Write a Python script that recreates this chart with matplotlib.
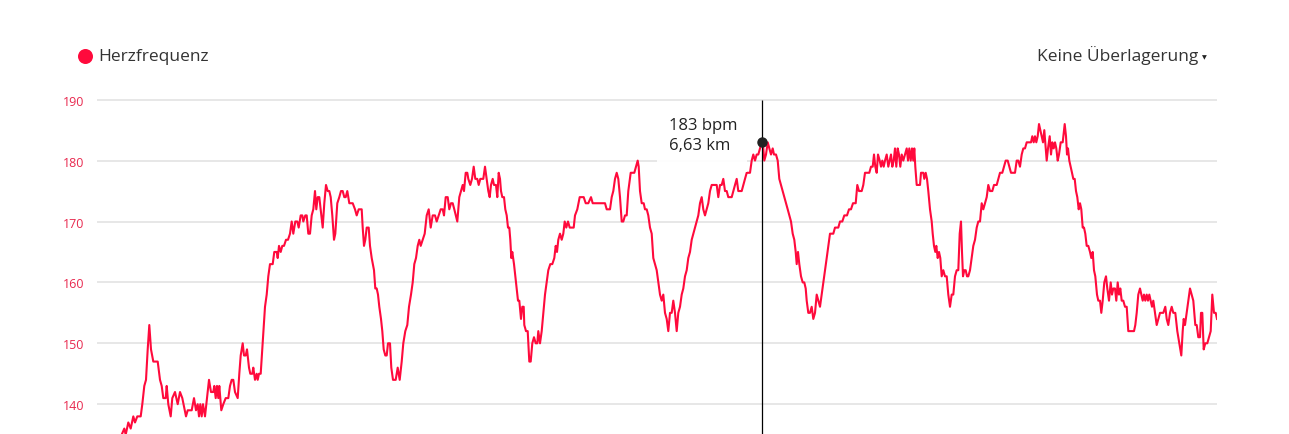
import matplotlib
matplotlib.use("Agg")
import matplotlib.pyplot as plt
from matplotlib.patches import Rectangle
from matplotlib.lines import Line2D

# Herzfrequenz über die Distanz
distance_km = [
    0.000, 0.100, 0.200, 0.227, 0.253, 0.267, 0.293, 0.317, 0.343, 0.360,
    0.383, 0.417, 0.433, 0.453, 0.470, 0.487, 0.503, 0.520, 0.543, 0.587,
    0.610, 0.627, 0.643, 0.667, 0.677, 0.693, 0.717, 0.733, 0.760, 0.787,
    0.810, 0.833, 0.870, 0.887, 0.927, 0.950, 0.970, 0.987, 1.000, 1.013,
    1.027, 1.040, 1.060, 1.080, 1.100, 1.120, 1.143, 1.153, 1.167, 1.180,
    1.193, 1.203, 1.223, 1.243, 1.267, 1.293, 1.310, 1.327, 1.343, 1.360,
    1.387, 1.403, 1.417, 1.437, 1.450, 1.467, 1.480, 1.500, 1.513, 1.533,
    1.543, 1.560, 1.577, 1.587, 1.600, 1.617, 1.633, 1.660, 1.677, 1.693,
    1.710, 1.737, 1.753, 1.777, 1.787, 1.800, 1.817, 1.833, 1.850, 1.870,
    1.890, 1.910, 1.927, 1.943, 1.963, 1.983, 1.997, 2.017, 2.033, 2.043,
    2.063, 2.077, 2.093, 2.110, 2.127, 2.143, 2.160, 2.173, 2.187, 2.203,
    2.223, 2.237, 2.253, 2.270, 2.287, 2.303, 2.317, 2.333, 2.350, 2.363,
    2.383, 2.403, 2.420, 2.437, 2.453, 2.467, 2.483, 2.503, 2.537, 2.560,
    2.577, 2.597, 2.627, 2.637, 2.650, 2.663, 2.677, 2.697, 2.710, 2.727,
    2.750, 2.763, 2.777, 2.790, 2.803, 2.820, 2.833, 2.847, 2.863, 2.877,
    2.890, 2.910, 2.923, 2.940, 2.967, 2.987, 3.007, 3.027, 3.043, 3.063,
    3.083, 3.100, 3.120, 3.137, 3.153, 3.170, 3.187, 3.203, 3.217, 3.237,
    3.257, 3.277, 3.297, 3.317, 3.337, 3.360, 3.377, 3.397, 3.417, 3.437,
    3.450, 3.467, 3.487, 3.503, 3.520, 3.537, 3.553, 3.583, 3.603, 3.620,
    3.637, 3.650, 3.667, 3.683, 3.693, 3.713, 3.730, 3.747, 3.763, 3.783,
    3.797, 3.813, 3.843, 3.860, 3.877, 3.893, 3.907, 3.920, 3.937, 3.950,
    3.970, 3.983, 3.997, 4.010, 4.020, 4.033, 4.050, 4.063, 4.077, 4.090,
    4.103, 4.113, 4.123, 4.133, 4.150, 4.163, 4.177, 4.190, 4.203, 4.220,
    4.233, 4.247, 4.253, 4.270, 4.287, 4.303, 4.317, 4.333, 4.350, 4.367,
    4.383, 4.393, 4.410, 4.427, 4.443, 4.460, 4.477, 4.493, 4.513, 4.533,
    4.553, 4.567, 4.580, 4.593, 4.610, 4.627, 4.643, 4.657, 4.673, 4.690,
    4.707, 4.727, 4.747, 4.760, 4.783, 4.807, 4.827, 4.847, 4.867, 4.893,
    4.920, 4.937, 4.977, 5.027, 5.060, 5.077, 5.110, 5.127, 5.143, 5.160,
    5.177, 5.193, 5.210, 5.227, 5.243, 5.260, 5.277, 5.293, 5.317, 5.337,
    5.353, 5.370, 5.387, 5.397, 5.410, 5.427, 5.447, 5.460, 5.477, 5.493,
    5.510, 5.527, 5.543, 5.560, 5.577, 5.593, 5.610, 5.627, 5.643, 5.660,
    5.677, 5.693, 5.710, 5.727, 5.743, 5.760, 5.777, 5.793, 5.810, 5.827,
    5.843, 5.860, 5.877, 5.893, 5.910, 5.927, 5.943, 5.960, 5.977, 5.993,
    6.010, 6.027, 6.043, 6.060, 6.077, 6.093, 6.110, 6.127, 6.143, 6.177,
    6.193, 6.210, 6.227, 6.243, 6.260, 6.277, 6.293, 6.327, 6.343, 6.360,
    6.377, 6.393, 6.427, 6.443, 6.460, 6.477, 6.493, 6.510, 6.527, 6.543,
    6.560, 6.577, 6.593, 6.610, 6.630, 6.643, 6.653, 6.670, 6.687, 6.703,
    6.720, 6.737, 6.750, 6.770, 6.787, 6.803, 6.820, 6.837, 6.853, 6.870,
    6.887, 6.903, 6.920, 6.937, 6.953, 6.967, 6.977, 6.990, 7.003, 7.020,
    7.037, 7.053, 7.067, 7.077, 7.093, 7.110, 7.127, 7.143, 7.160, 7.177,
    7.193, 7.210, 7.227, 7.243, 7.260, 7.277, 7.293, 7.310, 7.327, 7.343,
    7.360, 7.377, 7.393, 7.410, 7.433, 7.453, 7.480, 7.500, 7.520, 7.540,
    7.567, 7.583, 7.600, 7.627, 7.643, 7.660, 7.677, 7.703, 7.720, 7.737,
    7.750, 7.763, 7.777, 7.790, 7.807, 7.820, 7.833, 7.847, 7.860, 7.877,
    7.893, 7.907, 7.920, 7.933, 7.947, 7.960, 7.973, 7.987, 8.000, 8.013,
    8.027, 8.043, 8.060, 8.077, 8.090, 8.103, 8.117, 8.130, 8.143, 8.153,
    8.163, 8.177, 8.193, 8.210, 8.220, 8.243, 8.253, 8.267, 8.280, 8.293,
    8.310, 8.327, 8.337, 8.350, 8.363, 8.373, 8.387, 8.400, 8.413, 8.427,
    8.443, 8.460, 8.477, 8.493, 8.510, 8.527, 8.543, 8.560, 8.577, 8.593,
    8.607, 8.620, 8.630, 8.640, 8.653, 8.667, 8.680, 8.693, 8.710, 8.727,
    8.743, 8.760, 8.777, 8.793, 8.810, 8.827, 8.843, 8.860, 8.877, 8.893,
    8.910, 8.933, 8.950, 8.977, 8.993, 9.010, 9.033, 9.050, 9.067, 9.087,
    9.103, 9.120, 9.160, 9.177, 9.193, 9.210, 9.227, 9.243, 9.260, 9.277,
    9.303, 9.320, 9.333, 9.347, 9.360, 9.373, 9.387, 9.400, 9.413, 9.427,
    9.440, 9.453, 9.467, 9.477, 9.490, 9.507, 9.520, 9.533, 9.547, 9.560,
    9.573, 9.587, 9.600, 9.617, 9.637, 9.657, 9.670, 9.680, 9.690, 9.703,
    9.717, 9.730, 9.743, 9.757, 9.770, 9.783, 9.797, 9.810, 9.823, 9.837,
    9.850, 9.863, 9.877, 9.893, 9.910, 9.923, 9.937, 9.950, 9.963, 9.980,
    9.993, 10.010, 10.023, 10.037, 10.053, 10.070, 10.083, 10.100, 10.117, 10.130,
    10.143, 10.160, 10.173, 10.187, 10.200, 10.213, 10.227, 10.243, 10.260, 10.277,
    10.293, 10.327, 10.350, 10.363, 10.377, 10.393, 10.410, 10.423, 10.437, 10.450,
    10.463, 10.477, 10.490, 10.503, 10.517, 10.530, 10.543, 10.560, 10.577, 10.593,
    10.610, 10.643, 10.663, 10.677, 10.693, 10.710, 10.727, 10.743, 10.763, 10.783,
    10.803, 10.823, 10.837, 10.847, 10.860, 10.877, 10.893, 10.910, 10.927, 10.943,
    10.963, 10.977, 10.993, 11.010, 11.020, 11.033, 11.047, 11.063, 11.083, 11.100,
    11.117, 11.133, 11.150, 11.167, 11.180,
]

heart_rate = [
    130, 132, 134, 135, 136, 135, 137, 136, 138, 137,
    138, 138, 140, 143, 144, 149, 153, 149, 147, 147,
    144, 143, 141, 141, 143, 140, 138, 141, 142, 140,
    142, 141, 138, 139, 139, 141, 139, 140, 138, 140,
    138, 140, 138, 141, 144, 142, 142, 143, 141, 143,
    141, 143, 139, 140, 141, 141, 143, 144, 144, 142,
    141, 145, 148, 150, 148, 148, 149, 146, 145, 145,
    146, 144, 145, 144, 145, 145, 149, 156, 158, 161,
    163, 163, 165, 165, 164, 166, 165, 166, 166, 167,
    167, 168, 170, 168, 170, 170, 169, 171, 171, 170,
    171, 171, 168, 168, 171, 172, 175, 172, 174, 174,
    171, 169, 173, 176, 175, 175, 174, 171, 167, 168,
    173, 174, 175, 175, 174, 174, 175, 173, 173, 172,
    171, 172, 172, 169, 166, 167, 169, 169, 166, 164,
    162, 159, 159, 158, 156, 154, 152, 149, 148, 148,
    150, 150, 146, 144, 144, 146, 144, 147, 150, 152,
    153, 156, 158, 160, 163, 164, 166, 167, 166, 167,
    168, 171, 172, 169, 171, 171, 170, 171, 172, 172,
    171, 174, 174, 172, 173, 173, 172, 170, 174, 175,
    176, 175, 178, 178, 177, 176, 177, 179, 177, 177,
    176, 177, 177, 179, 177, 175, 174, 176, 177, 176,
    176, 174, 178, 177, 175, 174, 174, 172, 171, 169,
    169, 167, 164, 165, 163, 161, 159, 157, 157, 154,
    156, 156, 153, 152, 152, 147, 147, 150, 151, 150,
    150, 152, 150, 152, 155, 158, 160, 162, 163, 163,
    164, 166, 165, 167, 168, 167, 168, 170, 169, 170,
    169, 169, 169, 171, 172, 174, 174, 174, 173, 173,
    174, 173, 173, 173, 173, 172, 172, 174, 175, 177,
    178, 177, 174, 170, 170, 171, 171, 175, 178, 178,
    178, 179, 180, 179, 175, 173, 173, 172, 172, 171,
    169, 168, 164, 163, 162, 160, 158, 157, 158, 155,
    154, 152, 155, 155, 157, 155, 152, 155, 156, 158,
    159, 161, 162, 164, 165, 167, 168, 169, 170, 171,
    173, 174, 172, 171, 172, 173, 175, 176, 176, 176,
    174, 176, 176, 177, 175, 175, 174, 174, 175, 176,
    177, 175, 175, 176, 177, 178, 178, 178, 180, 181,
    180, 181, 181, 182, 183, 182, 180, 181, 183, 182,
    181, 182, 181, 181, 180, 177, 176, 175, 174, 173,
    172, 171, 170, 168, 167, 165, 163, 165, 163, 161,
    160, 160, 159, 157, 155, 155, 156, 154, 155, 158,
    157, 156, 158, 160, 162, 164, 166, 168, 168, 168,
    169, 169, 169, 170, 170, 171, 171, 172, 172, 173,
    173, 176, 175, 175, 176, 178, 178, 178, 179, 179,
    181, 179, 178, 181, 180, 179, 180, 179, 180, 181,
    179, 180, 181, 179, 180, 182, 179, 182, 181, 179,
    181, 180, 181, 182, 180, 182, 180, 182, 180, 182,
    179, 176, 176, 176, 178, 178, 177, 178, 177, 175,
    172, 170, 168, 166, 165, 166, 164, 165, 164, 161,
    162, 161, 161, 158, 156, 158, 158, 161, 162, 162,
    168, 170, 165, 161, 162, 162, 161, 161, 162, 164,
    166, 167, 169, 170, 170, 173, 172, 173, 174, 176,
    175, 175, 176, 176, 177, 178, 178, 179, 180, 180,
    179, 178, 178, 180, 180, 179, 181, 182, 182, 183,
    183, 183, 184, 183, 184, 183, 184, 186, 185, 184,
    183, 185, 182, 180, 182, 184, 181, 183, 182, 183,
    182, 180, 181, 183, 183, 186, 184, 181, 182, 180,
    179, 178, 177, 177, 175, 174, 172, 173, 172, 169,
    169, 168, 166, 166, 165, 164, 165, 162, 161, 158,
    157, 157, 155, 157, 160, 161, 159, 157, 160, 158,
    159, 159, 157, 160, 158, 159, 157, 157, 156, 156,
    152, 152, 152, 153, 155, 158, 159, 158, 157, 158,
    157, 158, 157, 158, 157, 156, 157, 155, 153, 154,
    155, 155, 156, 154, 153, 155, 156, 155, 155, 152,
    150, 148, 152, 154, 153, 155, 157, 159, 158, 157,
    153, 153, 151, 151, 155, 155, 149, 150, 150, 151,
    152, 158, 155, 155, 154,
]

y_ticks = [140, 150, 160, 170, 180, 190]
cursor_km = 6.63
cursor_bpm = 183

assert len(distance_km) == len(heart_rate)

RED = "#ff0a3c"
TICK_RED = "#e8294f"
W, H = 1289, 435

plt.rcParams['font.family'] = ['Open Sans', 'DejaVu Sans']

fig = plt.figure(figsize=(W / 100, H / 100), dpi=100)


def fx(px):
    return px / W


def fy(py):
    return 1 - py / H


# Achse: 190 liegt bei y=100.7 px, 10 bpm = 60.9 px
px_per_bpm = 6.09
top_val = 190.5
bottom_val = 190 - (H - 100.7) / px_per_bpm
ax_top_px = 100.7 - (top_val - 190) * px_per_bpm
ax = fig.add_axes([fx(97), 0, fx(1217) - fx(97), (H - ax_top_px) / H])
ax.set_xlim(-0.02, 11.18)
ax.set_ylim(bottom_val, top_val)

for t in y_ticks:
    ax.axhline(t, color="#e3e3e3", lw=1.2, zorder=1)

ax.set_yticks(y_ticks)
ax.set_yticklabels([str(t) for t in y_ticks], color=TICK_RED, fontsize=9)
ax.tick_params(axis='y', length=0, pad=9)
ax.set_xticks([])
for s in ax.spines.values():
    s.set_visible(False)

ax.plot(distance_km, heart_rate, color=RED, lw=1.5, zorder=3,
        solid_joinstyle='round')

# Tooltip-Hintergrund
box_x0 = (657 - 99) / 100
box_x1 = (747 - 99) / 100
box_y0 = 190 - (173 - 100.7) / px_per_bpm
box_y1 = 190 - (108 - 100.7) / px_per_bpm
ax.add_patch(Rectangle((box_x0, box_y0), box_x1 - box_x0, box_y1 - box_y0,
                       facecolor="white", edgecolor="none", alpha=0.92, zorder=4))

# Cursor
ax.vlines(cursor_km, bottom_val, 190, color="black", lw=0.9, zorder=5)
ax.plot([cursor_km], [cursor_bpm], 'o', color="#222222", ms=6.5, zorder=6)

fig.text(fx(669), fy(126.5), "183 bpm", fontsize=12, color="#222222",
         va='center', ha='left')
fig.text(fx(669), fy(146.5), "6,63 km", fontsize=12, color="#222222",
         va='center', ha='left')

# Legende
fig.add_artist(Line2D([fx(85)], [fy(57)], marker='o', ms=10.8, color=RED,
                      markeredgewidth=0, transform=fig.transFigure))
fig.text(fx(98), fy(57), "Herzfrequenz", fontsize=12.5, color="#333333",
         va='center', ha='left')

fig.text(fx(1198), fy(56), "Keine Überlagerung", fontsize=12.5, color="#333333",
         va='center', ha='right')
fig.text(fx(1204), fy(58), "▼", fontsize=4.5, color="#222222",
         va='center', ha='center', family='DejaVu Sans')

fig.savefig("out.png", dpi=100)
